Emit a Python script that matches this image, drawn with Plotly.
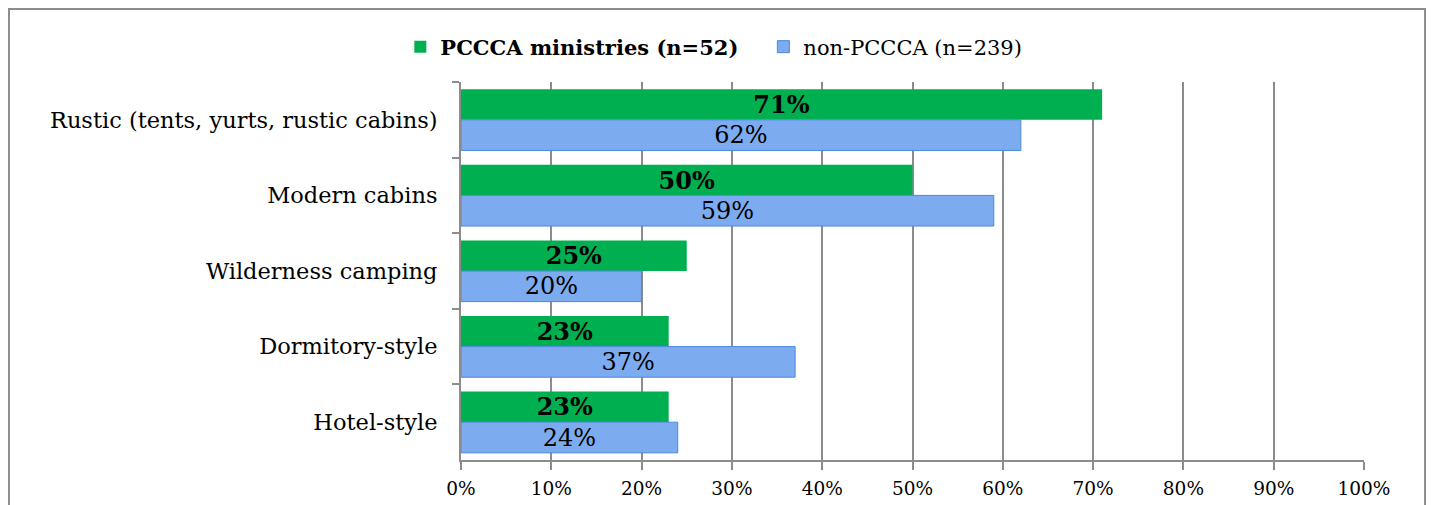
import plotly.graph_objects as go

categories = ["Rustic (tents, yurts, rustic cabins)", "Modern cabins", "Wilderness camping",
              "Dormitory-style", "Hotel-style"]
pccca = [71, 50, 25, 23, 23]
non_pccca = [62, 59, 20, 37, 24]
pccca_name = "PCCCA ministries (n=52)"
non_pccca_name = "non-PCCCA (n=239)"
x_ticks = [0, 10, 20, 30, 40, 50, 60, 70, 80, 90, 100]

serif = "DejaVu Serif, serif"

fig = go.Figure()
fig.add_trace(go.Bar(
    y=categories, x=pccca, orientation="h",
    name="<b>" + pccca_name + "</b>\u00a0\u00a0\u00a0",
    marker=dict(color="#00B050", line=dict(width=0)),
    text=["<b>%d%%</b>" % v for v in pccca], textposition="inside",
    insidetextanchor="middle", textfont=dict(family=serif, size=24, color="black"),
))
fig.add_trace(go.Bar(
    y=categories, x=non_pccca, orientation="h", name=non_pccca_name,
    marker=dict(color="#7DABF0", line=dict(color="#4A88DC", width=1)),
    text=["%d%%" % v for v in non_pccca], textposition="inside",
    insidetextanchor="middle", textfont=dict(family=serif, size=24, color="black"),
))

# the page body adds 8px on the left and top, so margins are shifted by that
fig.update_layout(
    width=1435, height=505,
    margin=dict(l=453, r=79, t=74, b=53, autoexpand=False),
    paper_bgcolor="white", plot_bgcolor="white",
    barmode="group", bargap=0.19, bargroupgap=0,
    font=dict(family=serif, size=21, color="black"),
    showlegend=True,
    legend=dict(orientation="h", x=0.28, xanchor="center", y=1.0926, yanchor="middle",
                font=dict(family=serif, size=21), traceorder="normal"),
    uniformtext=dict(minsize=24, mode="show"),
)
fig.update_xaxes(
    range=[0, 100], tickvals=x_ticks, ticktext=["%d%%" % t for t in x_ticks],
    showgrid=True, gridcolor="#8C8C8C", gridwidth=2,
    showline=True, linecolor="#8C8C8C", linewidth=2,
    ticks="outside", ticklen=8, tickcolor="#8C8C8C", tickwidth=2,
    tickfont=dict(family=serif, size=18.5), ticklabelstandoff=3, zeroline=False, automargin=False,
)
fig.update_yaxes(
    autorange="reversed", showline=True, linecolor="#8C8C8C", linewidth=2,
    ticks="outside", ticklen=7, tickcolor="#8C8C8C", tickwidth=2, tickson="boundaries",
    tickfont=dict(family=serif, size=22.5), ticklabelstandoff=17, showgrid=False,
    automargin=False,
)
# outer chart frame
fig.add_shape(type="rect", xref="paper", yref="paper", x0=-0.5006, x1=1.0676, y0=-0.3, y1=1.193,
              line=dict(color="#8C8C8C", width=2), layer="below")

fig.write_html("out.html")
